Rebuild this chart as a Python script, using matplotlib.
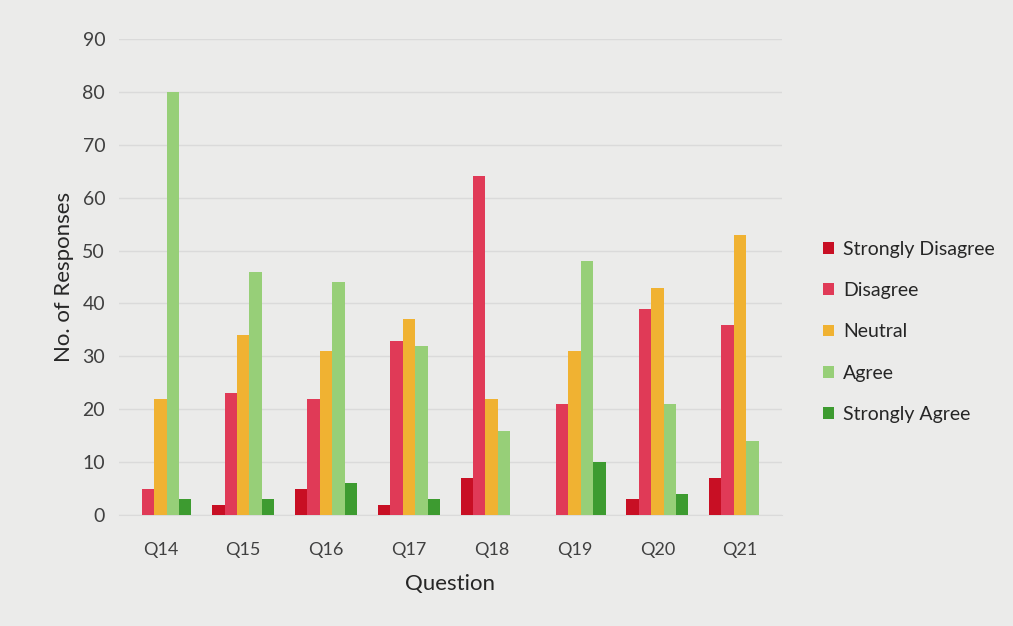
import matplotlib.pyplot as plt
import numpy as np
from matplotlib.patches import Patch

questions = ['Q14', 'Q15', 'Q16', 'Q17', 'Q18', 'Q19', 'Q20', 'Q21']
strongly_disagree = [0, 2, 5, 2, 7, 0, 3, 7]
disagree = [5, 23, 22, 33, 64, 21, 39, 36]
neutral = [22, 34, 31, 37, 22, 31, 43, 53]
agree = [80, 46, 44, 32, 16, 48, 21, 14]
strongly_agree = [3, 3, 6, 3, 0, 10, 4, 0]

series = [strongly_disagree, disagree, neutral, agree, strongly_agree]
names = ['Strongly Disagree', 'Disagree', 'Neutral', 'Agree', 'Strongly Agree']
colors = ['#c80f24', '#e03a57', '#f0b232', '#97cf78', '#3d9b30']

plt.rcParams['font.family'] = ['Lato', 'DejaVu Sans']

fig = plt.figure(figsize=(10.13, 6.26), dpi=100, facecolor='#ebebea')
ax = fig.add_axes([0.1175, 0.177, 0.654, 0.761])
ax.set_facecolor('#ebebea')

x = np.arange(len(questions))
w = 0.15
for i, (vals, c) in enumerate(zip(series, colors)):
    ax.bar(x + (i - 2) * w, vals, width=w, color=c, zorder=3)

ax.set_xlim(-0.5, len(questions) - 0.5)
ax.set_ylim(0, 90)
ax.set_yticks(range(0, 91, 10))
ax.set_xticks(x)
ax.set_xticklabels(questions)
ax.grid(axis='y', color='#dadada', linewidth=1, zorder=0)
ax.tick_params(length=0, colors='#404040')
ax.tick_params(axis='y', labelsize=14, pad=10)
ax.tick_params(axis='x', labelsize=13, pad=19)
for s in ['top', 'right', 'left']:
    ax.spines[s].set_visible(False)
ax.spines['bottom'].set_color('#dadada')

ax.set_xlabel('Question', fontsize=16, color='#262626', labelpad=12)
ax.set_ylabel('No. of Responses', fontsize=16, color='#262626', labelpad=6)

handles = [Patch(facecolor=c, label=n) for c, n in zip(colors, names)]
fig.legend(handles=handles, loc='center left', bbox_to_anchor=(0.795, 0.47),
           frameon=False, fontsize=14, labelspacing=1.25, handlelength=0.55,
           handleheight=0.55, handletextpad=0.5, labelcolor='#262626')

fig.savefig('out.png', dpi=100, facecolor=fig.get_facecolor())
